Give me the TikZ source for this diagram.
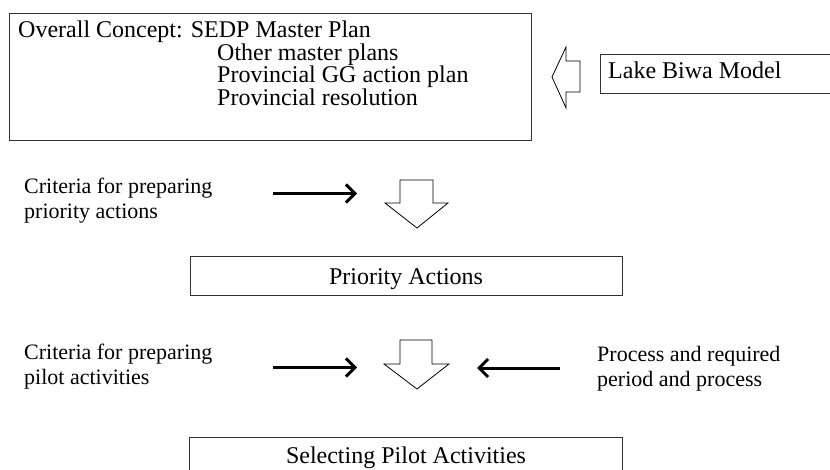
\documentclass[tikz,border=0pt]{standalone}
\usepackage{fontspec}
\setmainfont{Liberation Serif}
\usetikzlibrary{arrows.meta}
\begin{document}
\begin{tikzpicture}[x=1pt,y=-1pt,
  frame/.style={draw=black!80, line width=0.9pt, inner sep=0pt},
  bigtxt/.style={font=\fontsize{24}{22.5}\selectfont, inner sep=0pt},
  sidetxt/.style={font=\fontsize{22}{25}\selectfont, inner sep=0pt, align=left},
  hollow/.style={draw=black, line width=0.8pt, fill=white, line join=miter},
  feed/.style={line width=3pt, -{Straight Barb[length=9pt,width=18pt]}}]
\useasboundingbox (0,0) rectangle (830,470);

% top concept box and its lines of text
\node[frame, anchor=north west, minimum width=522pt, minimum height=127pt] (concept) at (9,13) {};
\node[bigtxt, anchor=base west] (c1) at (18,38) {Overall Concept: SEDP Master Plan};
\node[bigtxt, anchor=base west] (c2) at (217,60.5) {Other master plans};
\node[bigtxt, anchor=base west] (c3) at (217,83) {Provincial GG action plan};
\node[bigtxt, anchor=base west] (c4) at (217,105.5) {Provincial resolution};

% Lake Biwa model box (runs off the right edge)
\node[frame, anchor=north west, minimum width=240pt, minimum height=39pt] (biwa) at (600,54) {};
\node[bigtxt, anchor=base west] (biwatxt) at (608,79) {Lake Biwa Model};

% hollow arrow pointing left into the concept box
\draw[hollow] (552,77) -- (566,47) -- (566,61) -- (580,61) -- (580,92) -- (566,92) -- (566,108) -- cycle;

% first stage (base anchor sits on the last line of a two-line label)
\node[sidetxt, anchor=base west] (crit1) at (24,218.3) {Criteria for preparing\\priority actions};
\coordinate (in1) at (357,193.5);
\draw[feed] (273,193.5) -- (in1);
\draw[hollow] (400,180) -- (433,180) -- (433,203) -- (448,203) -- (417,228) -- (385,203) -- (400,203) -- cycle;

\node[frame, minimum width=432pt, minimum height=39pt, bigtxt, text height=19pt, text depth=0pt] (prio) at (406,275.5) {Priority Actions};

% second stage
\node[sidetxt, anchor=base west] (crit2) at (24,384.5) {Criteria for preparing\\pilot activities};
\coordinate (in2) at (357,367.5);
\draw[feed] (273,367.5) -- (in2);
\draw[hollow] (400,340) -- (432,340) -- (432,364) -- (449,364) -- (417,389) -- (384,364) -- (400,364) -- cycle;
\coordinate (in3) at (477,368);
\draw[feed] (560,368) -- (in3);
\node[sidetxt, anchor=base west] (proc) at (597,386) {Process and required\\period and process};

\node[frame, anchor=north, minimum width=433pt, minimum height=40pt] (pilot) at (406,437) {};
\node[bigtxt, anchor=base] (pilottxt) at (406,463.5) {Selecting Pilot Activities};
\end{tikzpicture}
\end{document}
